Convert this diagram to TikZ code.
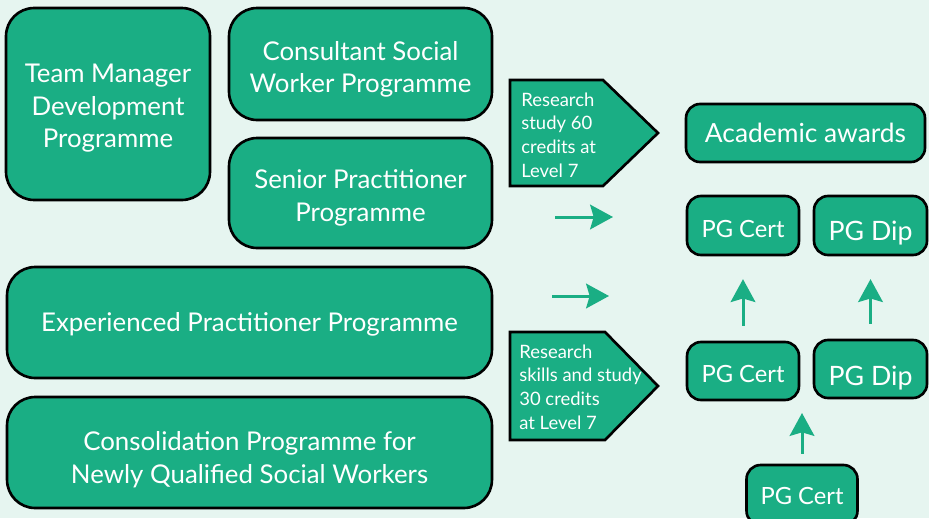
\documentclass[tikz,border=0pt]{standalone}
\usepackage{fontspec}
\setmainfont{Lato}
\usetikzlibrary{arrows.meta}
\definecolor{progGreen}{HTML}{1AAE84}
\definecolor{paleMint}{HTML}{E6F5F0}

\begin{document}
\begin{tikzpicture}[x=0.02cm,y=-0.02cm,
    prog/.style={draw=black,line width=1.5pt,fill=progGreen,text=white,
      rounded corners=16pt,align=center,inner sep=0pt,text depth=0pt,
      font=\fontsize{14.7}{18.5}\selectfont},
    award/.style={prog,rounded corners=8pt},
    small/.style={font=\fontsize{13.5}{16}\selectfont},
    pent/.style={draw=black,line width=1.5pt,fill=progGreen},
    note/.style={text=white,align=left,inner sep=0pt,
      font=\fontsize{10.5}{13.5}\selectfont},
    flow/.style={progGreen,line width=1.7pt,
      -{Stealth[length=13pt,width=14pt,inset=2pt]}}]
        \useasboundingbox (0,0) rectangle (929,518);
        \clip (0,0) rectangle (929,518);
        \fill[paleMint] (0,0) rectangle (929,518);
        % programmes
        \node[prog,minimum width=4.08cm,minimum height=3.84cm,text height=49.7pt] (tmdp) at (108,104) {Team Manager\\Development\\Programme};
        \node[prog,minimum width=5.26cm,minimum height=2.24cm,text height=33pt] (cswp) at (360.5,64) {Consultant Social\\Worker Programme};
        \node[prog,minimum width=5.26cm,minimum height=2.2cm,text height=32.4pt] (spp) at (360.5,193) {Senior Practitioner\\Programme};
        \node[prog,minimum width=9.7cm,minimum height=2.22cm,text height=10.5pt] (epp) at (249.5,322.5) {Experienced Practitioner Programme};
        \node[prog,minimum width=9.7cm,minimum height=2.22cm,text height=35.2pt] (cpnq) at (249.5,452.5) {Consolidation Programme for\\Newly Qualified Social Workers};
        % research blocks
        \draw[pent] (510,80) -- (603,80) -- (658,133) -- (603,186) -- (510,186) -- cycle;
        \node[note,anchor=west] (rs60) at (521,135) {Research\\study 60\\credits at\\Level 7};
        \draw[pent] (510,332) -- (605,332) -- (658,386) -- (605,440) -- (510,440) -- cycle;
        \node[note,anchor=west] (rs30) at (519,387) {Research\\skills and study\\30 credits\\at Level 7};
        % awards
        \node[award,minimum width=4.78cm,minimum height=1.16cm,text height=11.3pt,font=\fontsize{15}{18}\selectfont] (acad) at (805.5,133) {Academic awards};
        \node[award,small,minimum width=2.24cm,minimum height=1.18cm,text height=13.7pt] (certB) at (743,225.5) {PG Cert};
        \node[award,minimum width=2.26cm,minimum height=1.18cm,text height=17.1pt,font=\fontsize{15.2}{18}\selectfont] (dipB) at (870.5,225.5) {PG Dip};
        \node[award,small,minimum width=2.24cm,minimum height=1.16cm,text height=13.1pt] (certA) at (743,371) {PG Cert};
        \node[award,minimum width=2.26cm,minimum height=1.16cm,text height=18.9pt,font=\fontsize{15.2}{18}\selectfont] (dipA) at (870.5,369) {PG Dip};
        \node[award,small,minimum width=2.22cm,minimum height=1.2cm,text height=10.8pt] (cert0) at (802,495) {PG Cert};
        % arrows
        \coordinate (goA) at (555,217);
        \coordinate (toA) at (613,217);
        \coordinate (goB) at (552,296);
        \coordinate (toB) at (609,296);
        \coordinate (toC) at (802,413);
        \draw[flow] (goA) -- (toA);
        \draw[flow] (goB) -- (toB);
        \draw[flow,shorten <=8.5pt,shorten >=13pt] (certA) -- (certB);
        \draw[flow,shorten <=8.5pt,shorten >=13pt] (dipA) -- (dipB);
        \draw[flow,shorten <=5.7pt] (cert0) -- (toC);
\end{tikzpicture}
\end{document}
